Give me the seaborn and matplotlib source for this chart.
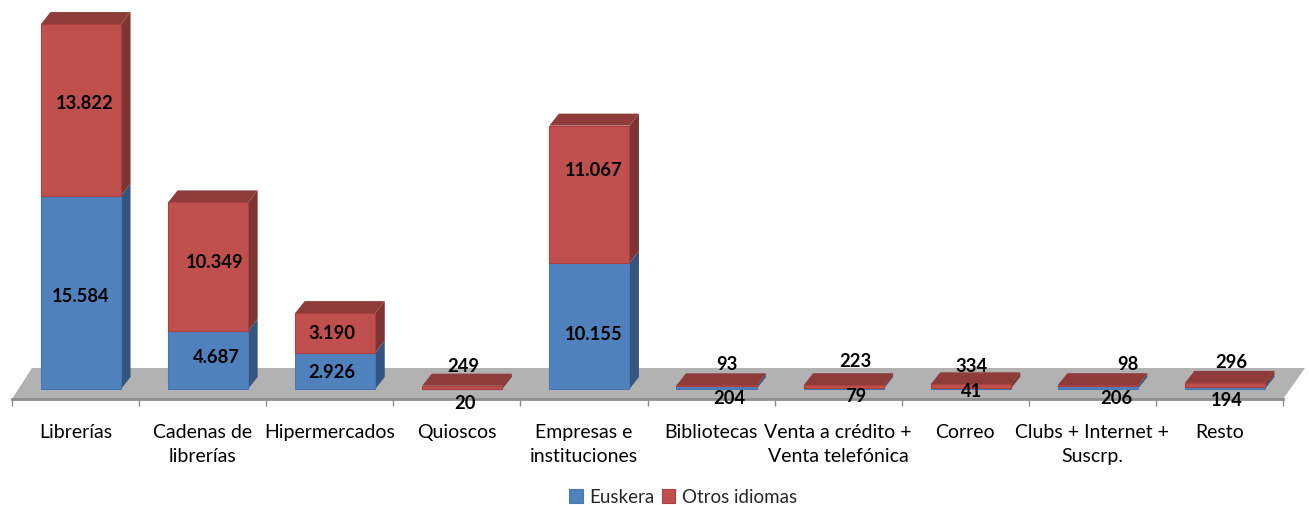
import pandas as pd
import matplotlib
matplotlib.use("Agg")
import matplotlib.pyplot as plt
import seaborn as sns

# --- Data ---
canales = [
    "Librerías", "Cadenas de\nlibrerías", "Hipermercados", "Quioscos",
    "Empresas e\ninstituciones", "Bibliotecas", "Venta a crédito +\nVenta telefónica",
    "Correo", "Clubs + Internet +\nSuscrp.", "Resto",
]
euskera = [15584, 4687, 2926, 20, 10155, 204, 79, 41, 206, 194]
otros = [13822, 10349, 3190, 249, 11067, 93, 223, 334, 98, 296]

# label shift from the middle of each segment, in pixels (right, down)
shift_euskera = [(0, 3), (8, -3), (-3, 1), (3, 14), (4, 8), (13, 10), (12, 7), (1, 2), (19, 10), (2, 12)]
shift_otros = [(4, -7), (7, -5), (-3, 0), (1, -22), (4, -25), (10, -22), (12, -26), (1, -21), (30, -22), (6, -23)]

AZUL, AZUL_LADO = "#4F81BD", "#34557F"
ROJO, ROJO_LADO, ROJO_TOPE = "#C0504D", "#7F3432", "#8F3B39"
SUELO, SUELO_BORDE = "#B2B2B2", "#8E8E8E"

W, H = 1309, 506
PX_X = 127.1      # pixels per category
PX_Y = 0.01241    # pixels per book
X0, Y0 = 81, 390  # pixel of first bar centre and of the baseline
ANCHO = 0.63
DX, DY = 9.5 / PX_X, 12 / PX_Y  # 3d depth

sns.set_style("white")
plt.rcParams["font.family"] = ["Lato", "DejaVu Sans"]

df = pd.DataFrame({"canal": canales, "euskera": euskera, "otros": otros})

fig = plt.figure(figsize=(W / 100, H / 100), dpi=100)
ax = fig.add_axes([0, (H - 400) / H, 1, 400 / H])

# --- Floor ---
frente = (Y0 - 400) / PX_Y
fondo = (Y0 - 369) / PX_Y
izq, der = (12 - X0) / PX_X, (1283 - X0) / PX_X
ax.fill([izq, der, (1305 - X0) / PX_X, (32 - X0) / PX_X], [frente, frente, fondo, fondo],
        color=SUELO, lw=0, zorder=0.5)

# --- Side and top faces ---
for i, (e, o) in enumerate(zip(euskera, otros)):
    x1 = i + ANCHO / 2
    ax.fill([x1, x1 + DX, x1 + DX, x1], [0, DY, e + DY, e], color=AZUL_LADO, lw=0, zorder=1)
    ax.fill([x1, x1 + DX, x1 + DX, x1], [e, e + DY, e + o + DY, e + o], color=ROJO_LADO, lw=0, zorder=1)
    ax.fill([i - ANCHO / 2, x1, x1 + DX, i - ANCHO / 2 + DX],
            [e + o, e + o, e + o + DY, e + o + DY], color=ROJO_TOPE, lw=0, zorder=1)

# --- Front faces ---
sns.barplot(data=df, x="canal", y="euskera", color=AZUL, saturation=1, width=ANCHO,
            edgecolor="#4A78B0", linewidth=0.8, label="Euskera", ax=ax, zorder=2)
sns.barplot(data=df, x="canal", y="otros", bottom=df["euskera"], color=ROJO, saturation=1, width=ANCHO,
            edgecolor="#A8413F", linewidth=0.8, label="Otros idiomas", ax=ax, zorder=2)

# --- Value labels ---
def etiqueta(valor, i, centro, shift):
    ax.annotate(f"{valor:,}".replace(",", "."), xy=(i, centro),
                xytext=(shift[0] * 0.72, -shift[1] * 0.72), textcoords="offset points",
                ha="center", va="center", fontsize=13.2, fontweight="bold", color="black", zorder=5)

for i, (e, o) in enumerate(zip(euskera, otros)):
    etiqueta(e, i, e / 2, shift_euskera[i])
    etiqueta(o, i, e + o / 2, shift_otros[i])

# --- Axes ---
ax.set_xlim(-X0 / PX_X, (W - X0) / PX_X)
ax.set_ylim((Y0 - 400) / PX_Y, Y0 / PX_Y)
ax.set_xlabel("")
ax.set_ylabel("")
ax.set_yticks([])
centros = [i - 5.5 / PX_X for i in range(len(canales))]
ax.set_xticks(centros)
ax.set_xticklabels(canales, fontsize=14, color="black", linespacing=1.5)
ax.set_xticks([izq + i for i in range(len(canales) + 1)], minor=True)
ax.tick_params(axis="x", which="major", length=0, pad=17.5)
ax.tick_params(axis="x", which="minor", length=5, width=1, color=SUELO_BORDE, bottom=True)
for lado in ["top", "left", "right"]:
    ax.spines[lado].set_visible(False)
ax.spines["bottom"].set_bounds(izq, der)
ax.spines["bottom"].set_color(SUELO_BORDE)
ax.spines["bottom"].set_linewidth(2)
ax.patch.set_alpha(0)

# --- Legend ---
ax.legend(loc="center", bbox_to_anchor=(683 / W, (H - 498) / H), bbox_transform=fig.transFigure,
          ncol=2, frameon=False, fontsize=13.5, handlelength=0.7, handleheight=0.7,
          handletextpad=0.35, columnspacing=0.4, borderpad=0, borderaxespad=0)

fig.savefig("out.png", dpi=100)
